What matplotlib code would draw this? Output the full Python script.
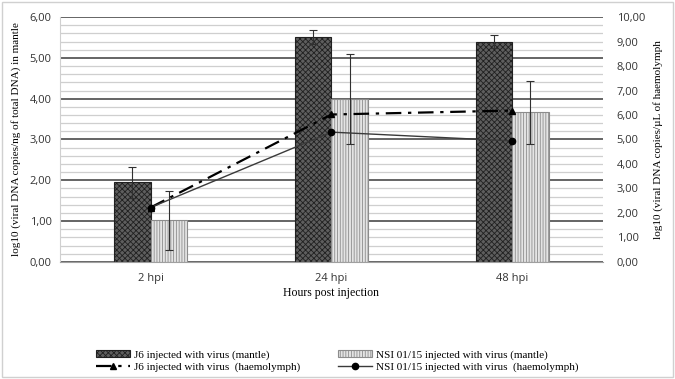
import matplotlib.pyplot as plt
import numpy as np
from matplotlib.ticker import MultipleLocator, FuncFormatter

categories = ['2 hpi', '24 hpi', '48 hpi']
j6_mantle = [1.95, 5.52, 5.40]
j6_mantle_err = [0.38, 0.17, 0.17]
nsi_mantle = [1.02, 4.00, 3.67]
nsi_mantle_err = [0.72, 1.10, 0.77]
j6_haemo = [2.22, 6.02, 6.18]
nsi_haemo = [2.22, 5.30, 4.94]

plt.rcParams['hatch.linewidth'] = 0.6
serif = 'Liberation Serif'
sans = 'Open Sans'

fig = plt.figure(figsize=(6.75, 3.79), dpi=100)
ax = fig.add_axes([0.089, 0.309, 0.804, 0.646])
ax2 = ax.twinx()

x = np.arange(len(categories))
w = 0.2

ax.set_axisbelow(True)
ax.yaxis.set_major_locator(MultipleLocator(1))
ax.yaxis.set_minor_locator(MultipleLocator(0.2))
ax.grid(which='major', axis='y', color='#4a4a4a', lw=1.2)
ax.grid(which='minor', axis='y', color='#cfcfcf', lw=0.9)

b1 = ax.bar(x - w / 2, j6_mantle, w, color='#5e5e5e', edgecolor='#202020',
            hatch='xxxxxx', lw=0.8, zorder=2)
b2 = ax.bar(x + w / 2, nsi_mantle, w, color='#e4e4e4', edgecolor='#8c8c8c',
            hatch='||||||', lw=0.8, zorder=2)
ax.errorbar(x - w / 2, j6_mantle, yerr=j6_mantle_err, fmt='none',
            ecolor='#303030', elinewidth=0.8, capsize=3, capthick=0.8, zorder=3)
ax.errorbar(x + w / 2, nsi_mantle, yerr=nsi_mantle_err, fmt='none',
            ecolor='#303030', elinewidth=0.8, capsize=3, capthick=0.8, zorder=3)

l1, = ax2.plot(x, j6_haemo, color='black', lw=1.6, ls=(0, (7, 3, 1.5, 3)),
               marker='^', ms=4.5, zorder=4)
l2, = ax2.plot(x, nsi_haemo, color='#3a3a3a', lw=1.0, ls='-',
               marker='o', ms=4.5, mfc='black', mec='black', zorder=4)

ax.set_xlim(-0.5, 2.5)
ax.set_ylim(0, 6)
ax2.set_ylim(0, 10)
ax2.yaxis.set_major_locator(MultipleLocator(1))

fmt = FuncFormatter(lambda v, p: ('%.2f' % v).replace('.', ','))
ax.yaxis.set_major_formatter(fmt)
ax2.yaxis.set_major_formatter(fmt)

ax.set_xticks(x)
ax.set_xticklabels(categories, fontsize=8, family=sans, color='#333333')
for a in (ax, ax2):
    a.tick_params(length=0, labelsize=8, labelcolor='#333333')
    for s in a.spines.values():
        s.set_visible(False)
    for t in a.get_yticklabels():
        t.set_family(sans)
ax.tick_params(axis='y', which='minor', length=0)
ax.spines['left'].set_visible(True)
ax.spines['left'].set_color('#d0d0d0')
ax.spines['bottom'].set_visible(True)
ax.spines['bottom'].set_color('#a0a0a0')
ax.tick_params(axis='x', pad=8)
ax.tick_params(axis='y', pad=6)
ax2.tick_params(axis='y', pad=10)

ax.set_xlabel('Hours post injection', family=serif, fontsize=8.5, labelpad=2)
ax.set_ylabel('log10 (viral DNA copies/ng of total DNA) in mantle',
              family=serif, fontsize=8, labelpad=6)
ax2.set_ylabel('log10 (viral DNA copies/µL of haemolymph',
               family=serif, fontsize=8, labelpad=6)

leg = fig.legend([b1, l1, b2, l2],
                 ['J6 injected with virus (mantle)',
                  'J6 injected with virus  (haemolymph)',
                  'NSI 01/15 injected with virus (mantle)',
                  'NSI 01/15 injected with virus  (haemolymph)'],
                 loc='lower center', bbox_to_anchor=(0.5, -0.008), ncol=2,
                 frameon=False, prop={'family': serif, 'size': 8},
                 columnspacing=3.4, handlelength=3, handleheight=0.6,
                 labelspacing=0.25, handletextpad=0.4)

fig.patches.append(plt.Rectangle((0.003, 0.005), 0.994, 0.99, transform=fig.transFigure,
                                 fill=False, edgecolor='#d0d0d0', lw=1))

fig.savefig('out.png', dpi=100)
